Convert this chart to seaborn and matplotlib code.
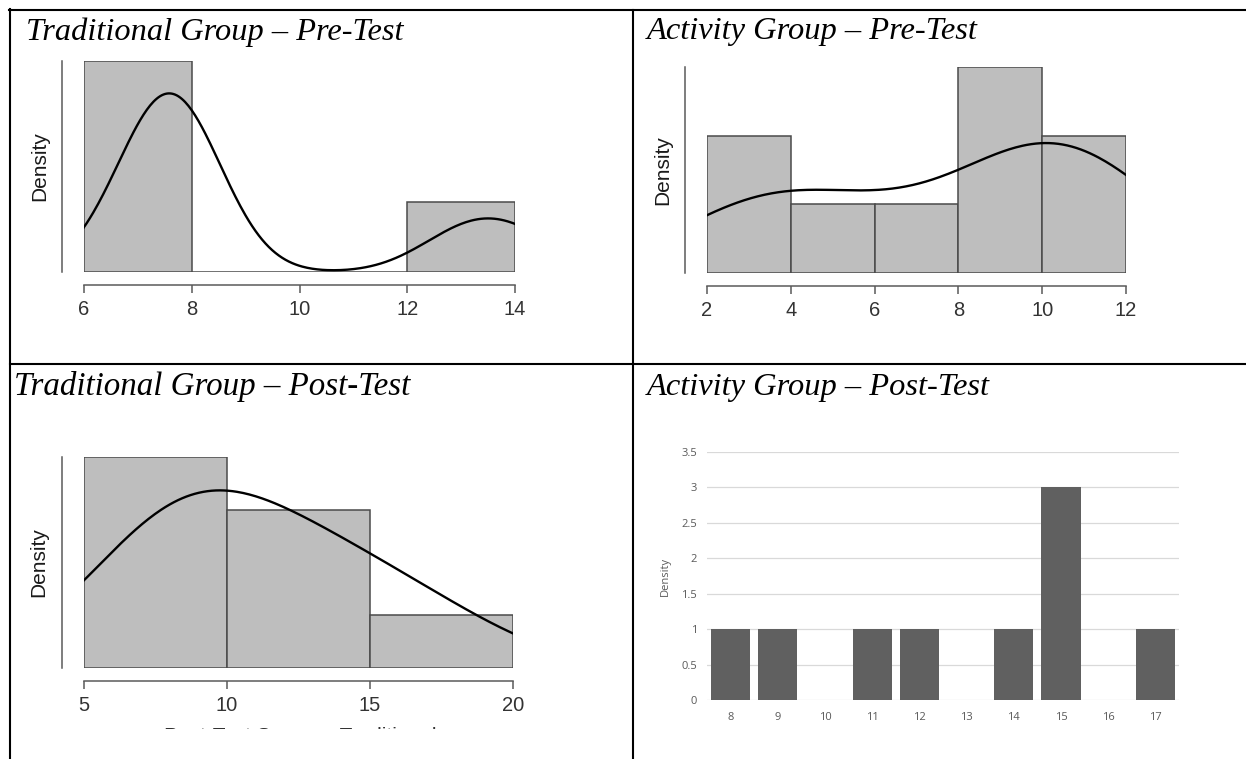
import numpy as np
import pandas as pd
import matplotlib
matplotlib.use("Agg")
import matplotlib.pyplot as plt
from matplotlib.lines import Line2D
from matplotlib.transforms import Bbox
import seaborn as sns

W, H = 1246, 759

# Data
# Traditional group, pre-test scores (histogram bins of width 2)
trad_pre = [7, 7.5, 7.5, 7.75, 7.75, 7.9, 13, 14]
trad_pre_bins = [6, 8, 10, 12, 14]
# Activity group, pre-test scores
act_pre = [2.5, 3.5, 5, 7, 9.5, 9.7, 9.9, 11.5, 11.9]
act_pre_bins = [2, 4, 6, 8, 10, 12]
# Traditional group, post-test scores (bins of width 5)
trad_post = [6.5, 8, 8.5, 9.5, 11, 13, 14.5, 17.5]
trad_post_bins = [5, 10, 15, 20]
# Activity group, post-test: frequency of each score
act_post_scores = [8, 9, 10, 11, 12, 13, 14, 15, 16, 17]
act_post_counts = [1, 1, 0, 1, 1, 0, 1, 3, 0, 1]
act_post_yticks = [0, 0.5, 1, 1.5, 2, 2.5, 3, 3.5]

titles = ["Traditional Group – Pre-Test", "Activity Group – Pre-Test",
          "Traditional Group – Post-Test", "Activity Group – Post-Test"]

plt.rcParams["font.family"] = ["Liberation Sans", "DejaVu Sans"]

fig = plt.figure(figsize=(W / 100, H / 100), dpi=100)


def px_axes(left, top, right, bottom):
    # place an axes using pixel positions of the reference picture
    return fig.add_axes([left / W, 1 - bottom / H, (right - left) / W, (bottom - top) / H])


def r_hist(box, scores, bins, bw, ylab_x):
    ax = px_axes(*box)
    sns.histplot(x=scores, bins=bins, stat="density", ax=ax,
                 color="#bebebe", alpha=1, edgecolor="#4a4a4a", linewidth=1.1)
    sns.kdeplot(x=scores, bw_adjust=bw, cut=3, gridsize=400, ax=ax,
                color="black", linewidth=1.7)
    top = max(p.get_height() for p in ax.patches)
    ax.set_xlim(bins[0], bins[-1])
    ax.set_ylim(0, top)
    for s in ["top", "right"]:
        ax.spines[s].set_visible(False)
    ax.spines["left"].set_position(("outward", 15.5))
    ax.spines["left"].set_bounds(0, top)
    ax.spines["bottom"].set_position(("outward", 9.5))
    ax.spines["bottom"].set_bounds(bins[0], bins[-1])
    for s in ["left", "bottom"]:
        ax.spines[s].set_color("#5a5a5a")
        ax.spines[s].set_linewidth(1.1)
    ax.set_yticks([])
    ax.set_xticks(bins)
    ax.tick_params(axis="x", direction="out", length=5.8, width=1.1,
                   color="#5a5a5a", labelsize=14.5, labelcolor="#333333", pad=5)
    ax.set_xlabel("")
    ax.set_ylabel("Density", fontsize=15, color="#1a1a1a")
    lab = ax.yaxis.label
    lab.set_rotation_mode("default")
    lab.set_verticalalignment("center")
    ax.yaxis.set_label_coords((ylab_x - box[0]) / (box[2] - box[0]), 0.5)
    ax.patch.set_alpha(0)
    return ax


r_hist((84, 61, 515, 272), trad_pre, trad_pre_bins, 0.49, 40)
r_hist((707, 67, 1126, 272.5), act_pre, act_pre_bins, 0.89, 663)
ax3 = r_hist((84, 457, 513, 668), trad_post, trad_post_bins, 1.25, 39)

# cut-off x label under the traditional post-test chart
xl = fig.text(300 / W, 1 - 726.5 / H, "Post-Test Scores - Traditional",
              fontsize=15, color="#333333", ha="center", va="top")
xl.set_clip_box(Bbox.from_extents(0, H - 729, W, H - 720))
xl.set_clip_on(True)

# Excel style bar chart for the activity post-test
ax4 = px_axes(707, 452, 1179, 700)
df = pd.DataFrame({"score": act_post_scores, "count": act_post_counts})
sns.barplot(data=df, x="score", y="count", color="#606060", saturation=1,
            width=0.83, ax=ax4)
ax4.set_xlim(-0.5, len(act_post_scores) - 0.5)
ax4.set_ylim(0, 3.5)
ax4.set_yticks(act_post_yticks)
ax4.set_yticklabels([f"{v:g}" for v in act_post_yticks])
ax4.yaxis.grid(True, color="#d9d9d9", linewidth=0.9)
ax4.set_axisbelow(True)
for s in ax4.spines.values():
    s.set_visible(False)
ax4.tick_params(length=0, labelsize=8, labelcolor="#595959")
ax4.tick_params(axis="y", pad=7)
ax4.tick_params(axis="x", pad=9)
for t in ax4.get_xticklabels() + ax4.get_yticklabels():
    t.set_family(["Open Sans", "DejaVu Sans"])
ax4.set_xlabel("")
ax4.set_ylabel("Density", fontsize=8, color="#595959", family=["Open Sans", "DejaVu Sans"])
lab = ax4.yaxis.label
lab.set_rotation_mode("default")
lab.set_verticalalignment("center")
ax4.yaxis.set_label_coords((665 - 707) / (1179 - 707), 0.5)

# cell titles
title_pos = [(26.5, 40), (646.5, 39.5), (14.5, 395), (646.5, 395)]
title_size = [23.3, 23.4, 23.8, 23.4]
for (x, y), t, fs in zip(title_pos, titles, title_size):
    fig.text(x / W, 1 - y / H, t, fontsize=fs, style="italic",
             family=["Liberation Serif", "DejaVu Serif"], va="baseline")

# table borders
def rule(x0, y0, x1, y1):
    fig.add_artist(Line2D([x0 / W, x1 / W], [1 - y0 / H, 1 - y1 / H],
                          transform=fig.transFigure, color="black", linewidth=1.5))

rule(9, 10, W + 5, 10)
rule(10, 9, 10, H + 5)
rule(633, 10, 633, H + 5)
rule(10, 364, W + 5, 364)

fig.savefig("out.png", dpi=100, facecolor="white")
